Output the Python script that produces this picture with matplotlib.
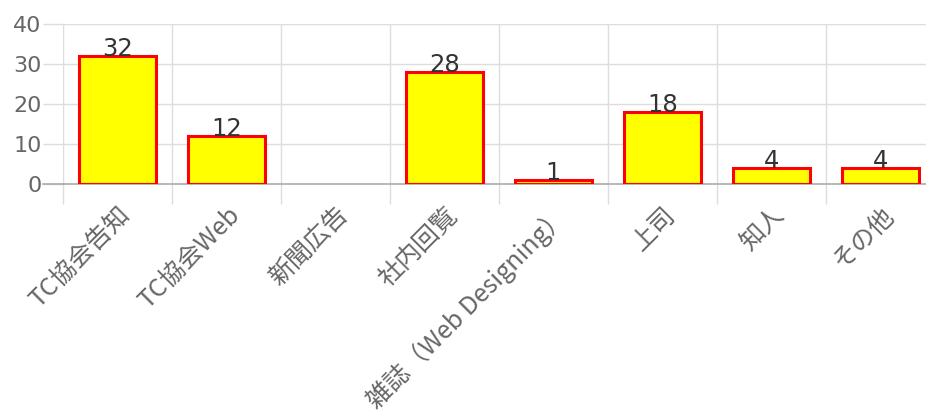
import numpy as np
import matplotlib.pyplot as plt

plt.rcParams['font.family'] = ['Noto Sans CJK JP', 'DejaVu Sans']

# survey answers: where people heard about it
labels = ["TC協会告知", "TC協会Web", "新聞広告", "社内回覧",
          "雑誌（Web Designing）", "上司", "知人", "その他"]
counts = [32, 12, 0, 28, 1, 18, 4, 4]
yticks = [0, 10, 20, 30, 40]

fig = plt.figure(figsize=(9.26, 4.2), dpi=100)
# plot area runs a bit past the right edge of the image
ax = fig.add_axes([63 / 926, 1 - 184 / 420, 872 / 926, 160 / 420])

x = np.arange(len(labels))
lw = [2.2 if v > 0 else 0 for v in counts]
ax.bar(x, counts, width=0.7, color="#ffff00", edgecolor="#ff0000",
       linewidth=lw, zorder=3)

for xi, v in zip(x, counts):
    if v > 0:
        ax.text(xi, v, str(v), ha="center", va="baseline", family="DejaVu Sans",
                fontsize=17.5, color="#333333", zorder=4)

ax.set_xlim(-0.5, len(labels) - 0.5)
ax.set_ylim(0, 40)
ax.set_yticks(yticks)
ax.set_yticklabels([str(t) for t in yticks], family="DejaVu Sans")
ax.set_xticks(x)
ax.set_xticklabels(labels, rotation=45, ha="right", rotation_mode="anchor",
                   fontsize=18, color="#666666")
ax.set_xticks(np.arange(len(labels) + 1) - 0.5, minor=True)

for s in ax.spines.values():
    s.set_visible(False)

grid_c = "#dddddd"
ax.tick_params(axis="y", length=14.4, width=1, color=grid_c,
               labelsize=16, labelcolor="#666666", pad=1)
ax.tick_params(axis="x", which="major", length=0, pad=13)
ax.tick_params(axis="x", which="minor", length=14.4, width=1, color=grid_c)

for yv in yticks[1:]:
    ax.axhline(yv, color=grid_c, lw=1, zorder=1)
for xb in np.arange(len(labels) + 1) - 0.5:
    ax.axvline(xb, color=grid_c, lw=1, zorder=1)
ax.axhline(0, color="#aaaaaa", lw=1.2, zorder=2, clip_on=False)
ax.plot([-0.5 - 20 / 109, -0.5], [0, 0], color="#aaaaaa", lw=1.2,
        clip_on=False, zorder=2)

fig.savefig("out.png", dpi=100)
